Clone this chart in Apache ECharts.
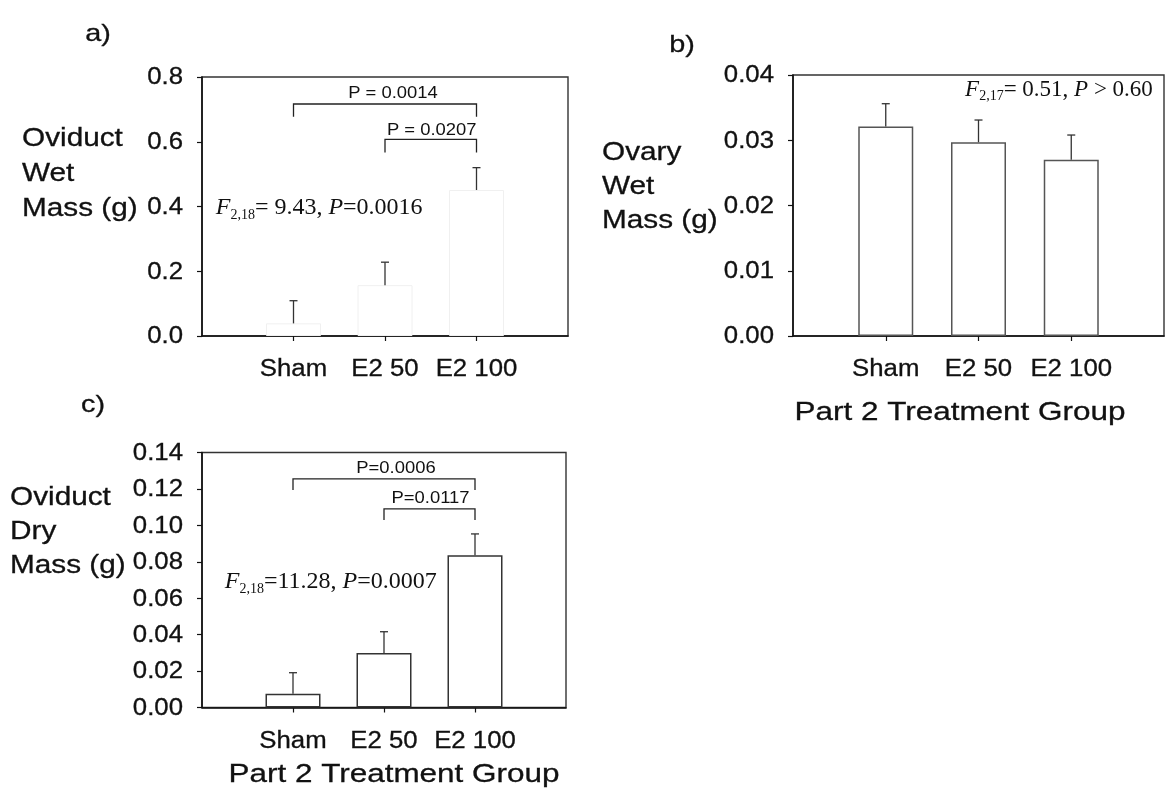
<!DOCTYPE html>
<html>
<head>
<meta charset="utf-8">
<title>Part 2 Treatment Group – reproductive tract masses</title>
<script src="https://cdn.jsdelivr.net/npm/echarts@6/dist/echarts.min.js"></script>
<style>
  html, body { margin: 0; padding: 0; background: #fff; }
  #chart { width: 1167px; height: 808px; }
</style>
</head>
<body>
<div id="chart"></div>
<script>
// ---- data -------------------------------------------------------------
const groups = ['Sham', 'E2 50', 'E2 100'];

// a) oviduct wet mass (g): mean and SE per group
const oviductWetMean = [0.039, 0.157, 0.451];
const oviductWetSE   = [0.070, 0.071, 0.069];

// b) ovary wet mass (g)
const ovaryWetMean = [0.0321, 0.0297, 0.0270];
const ovaryWetSE   = [0.0035, 0.0034, 0.0038];

// c) oviduct dry mass (g)
const oviductDryMean = [0.0076, 0.0299, 0.0836];
const oviductDrySE   = [0.0115, 0.0117, 0.0117];

// y-axis tick labels
const yTicksA = ['0.0', '0.2', '0.4', '0.6', '0.8'];
const yTicksB = ['0.00', '0.01', '0.02', '0.03', '0.04'];
const yTicksC = ['0.00', '0.02', '0.04', '0.06', '0.08', '0.10', '0.12', '0.14'];

// axis titles and panel letters
const yTitleA = ['Oviduct', 'Wet', 'Mass (g)'];
const yTitleB = ['Ovary', 'Wet', 'Mass (g)'];
const yTitleC = ['Oviduct', 'Dry', 'Mass (g)'];
const xTitle = 'Part 2 Treatment Group';
const panelLetters = ['a)', 'b)', 'c)'];

// ANOVA results: [stat, df, value, test stat, value]
const anovaA = ['F', '2,18', '= 9.43, ', 'P', '=0.0016'];
const anovaB = ['F', '2,17', '= 0.51, ', 'P', ' > 0.60'];
const anovaC = ['F', '2,18', '=11.28, ', 'P', '=0.0007'];

// pairwise comparisons: [from group, to group] and their P values
const pairsA = [[0, 2], [1, 2]];
const pairPA = ['P = 0.0014', 'P = 0.0207'];
const pairsC = [[0, 2], [1, 2]];
const pairPC = ['P=0.0006', 'P=0.0117'];

// ---- layout & style ---------------------------------------------------
const SANS = '"Liberation Sans", Arial, Helvetica, sans-serif';
const SERIF = '"Liberation Serif", "Times New Roman", Times, serif';
const INK = '#111';

const panels = [
  {
    grid: { left: 202, top: 77, width: 366, height: 259 },
    max: 0.8, interval: 0.2, ticks: yTicksA,
    mean: oviductWetMean, se: oviductWetSE,
    barEdge: '#f0f0f0', barEdgeWidth: 1, errColor: '#333',
    letter: [98, 34],
    yTitle: yTitleA, yTitleAt: [22, 139], yTitleStep: 35,
    anova: anovaA, anovaAt: [0.15, 0.395], anovaAlign: 'left', anovaSize: 24,
    pairs: pairsA, pairP: pairPA,
    // bracket top / leg ends (data units) and label centre (x offset px, y data)
    bracket: [[0.7166, 0.677], [0.6076, 0.567]],
    pLabel: [[8, 0.7475], [1, 0.636]]
  },
  {
    grid: { left: 793, top: 75, width: 371, height: 261 },
    max: 0.04, interval: 0.01, ticks: yTicksB,
    mean: ovaryWetMean, se: ovaryWetSE,
    barEdge: '#555', barEdgeWidth: 1.5, errColor: '#333',
    letter: [682, 45],
    yTitle: yTitleB, yTitleAt: [602, 153], yTitleStep: 34,
    xTitleAt: [960, 413],
    anova: anovaB, anovaAt: [3.88, 0.0377], anovaAlign: 'right', anovaSize: 23,
    pairs: [], pairP: [], bracket: [], pLabel: []
  },
  {
    grid: { left: 202, top: 452.5, width: 364, height: 255 },
    max: 0.14, interval: 0.02, ticks: yTicksC,
    mean: oviductDryMean, se: oviductDrySE,
    barEdge: '#333', barEdgeWidth: 1.5, errColor: '#333',
    letter: [93, 405],
    yTitle: yTitleC, yTitleAt: [10, 498], yTitleStep: 34,
    xTitleAt: [394, 775],
    anova: anovaC, anovaAt: [0.25, 0.0689], anovaAlign: 'left', anovaSize: 24,
    pairs: pairsC, pairP: pairPC,
    bracket: [[0.1255, 0.1194], [0.109, 0.1030]],
    pLabel: [[12, 0.131], [1, 0.1145]]
  }
];

// category slots: an empty slot at each end keeps the groups off the frame
const slots = [''].concat(groups, ['']);

const chart = echarts.init(document.getElementById('chart'), null, { renderer: 'canvas' });

const grids = [], xAxes = [], yAxes = [], series = [];

panels.forEach((p, gi) => {
  grids.push(Object.assign({ show: true, borderColor: '#333', borderWidth: 1.4, backgroundColor: 'transparent' }, p.grid));

  xAxes.push({
    type: 'category', gridIndex: gi, data: slots, boundaryGap: false,
    axisLine: { lineStyle: { color: INK, width: 1.6 } },
    axisTick: { show: true, length: 5, inside: false, interval: (idx, v) => v !== '',
                lineStyle: { color: INK, width: 1.2 } },
    axisLabel: { show: false },
    splitLine: { show: false }
  });

  yAxes.push({
    type: 'value', gridIndex: gi, min: 0, max: p.max, interval: p.interval,
    axisLine: { show: true, lineStyle: { color: INK, width: 1.6 } },
    axisTick: { show: true, length: 5, inside: false, lineStyle: { color: INK, width: 1.2 } },
    axisLabel: { show: false },
    splitLine: { show: false }
  });

  // bars
  series.push({
    type: 'bar', xAxisIndex: gi, yAxisIndex: gi, barWidth: 55, animation: false,
    data: [null].concat(p.mean, [null]),
    itemStyle: { color: '#fff', borderColor: p.barEdge, borderWidth: p.barEdgeWidth },
    z: 2
  });

  // upper error bars (mean to mean + SE) with a short cap
  series.push({
    type: 'custom', xAxisIndex: gi, yAxisIndex: gi, animation: false, clip: false, z: 3,
    data: p.mean.map((m, i) => [i + 1, m, m + p.se[i]]),
    renderItem: (params, api) => {
      const a = api.coord([api.value(0), api.value(1)]);
      const b = api.coord([api.value(0), api.value(2)]);
      const st = { stroke: p.errColor, lineWidth: 1.3 };
      return {
        type: 'group',
        children: [
          { type: 'line', shape: { x1: a[0], y1: a[1], x2: b[0], y2: b[1] }, style: st },
          { type: 'line', shape: { x1: b[0] - 4, y1: b[1], x2: b[0] + 4, y2: b[1] }, style: st }
        ]
      };
    }
  });

  // significance brackets
  if (p.pairs.length) {
    series.push({
      type: 'custom', xAxisIndex: gi, yAxisIndex: gi, animation: false, clip: false, z: 3,
      data: p.pairs.map((pr, k) => [pr[0] + 1, pr[1] + 1, p.bracket[k][0], p.bracket[k][1]]),
      renderItem: (params, api) => {
        const l0 = api.coord([api.value(0), api.value(3)]);
        const l1 = api.coord([api.value(0), api.value(2)]);
        const r1 = api.coord([api.value(1), api.value(2)]);
        const r0 = api.coord([api.value(1), api.value(3)]);
        return {
          type: 'polyline',
          shape: { points: [l0, l1, r1, r0] },
          style: { stroke: '#222', lineWidth: 1.3, fill: null }
        };
      }
    });
  }
});

chart.setOption({
  animation: false,
  backgroundColor: '#fff',
  grid: grids,
  xAxis: xAxes,
  yAxis: yAxes,
  series: series
});

// ---- text, placed through the axes' own scales --------------------------
// The typeface in this figure is wide, so sans text is drawn stretched horizontally.
function toPx(gi, xv, yv) {
  const x0 = Math.floor(xv), f = xv - x0;
  const a = chart.convertToPixel({ gridIndex: gi }, [x0, yv]);
  if (f === 0) return a;
  const b = chart.convertToPixel({ gridIndex: gi }, [x0 + 1, yv]);
  return [a[0] + (b[0] - a[0]) * f, a[1]];
}

function sansText(x, y, text, size, sx, align) {
  // large labels get a hairline outline for a slightly heavier stroke
  const weight = size >= 20 ? 0.3 : 0;
  return {
    type: 'text', x: x, y: y, scaleX: sx, silent: true, z: 10,
    style: {
      text: text, fill: INK, stroke: weight ? INK : null, lineWidth: weight, font: size + 'px ' + SANS,
      align: align, textAlign: align, verticalAlign: 'middle', textVerticalAlign: 'middle'
    }
  };
}

function anovaText(x, y, parts, size, align) {
  const sub = Math.round(size * 0.6);
  return {
    type: 'text', x: x, y: y, silent: true, z: 10,
    style: {
      text: '{i|' + parts[0] + '}{s|' + parts[1] + '}{n|' + parts[2] + '}{i|' + parts[3] + '}{n|' + parts[4] + '}',
      fill: INK, font: size + 'px ' + SERIF,
      align: align, textAlign: align, verticalAlign: 'middle', textVerticalAlign: 'middle',
      rich: {
        i: { fontFamily: SERIF, fontStyle: 'italic', fontSize: size, lineHeight: size + 4, fill: INK },
        n: { fontFamily: SERIF, fontSize: size, lineHeight: size + 4, fill: INK },
        s: { fontFamily: SERIF, fontSize: sub, lineHeight: sub, verticalAlign: 'bottom', fill: INK }
      }
    }
  };
}

const graphics = [];
panels.forEach((p, gi) => {
  // y tick labels
  p.ticks.forEach(t => {
    const pt = toPx(gi, 0, parseFloat(t));
    graphics.push(sansText(pt[0] - 19, pt[1] + 1, t, 23, 1.12, 'right'));
  });
  // group labels under the x axis
  groups.forEach((g, i) => {
    const pt = toPx(gi, i + 1, 0);
    graphics.push(sansText(pt[0], pt[1] + 34, g, 23, 1.12, 'center'));
  });
  // y title, one line per entry
  p.yTitle.forEach((line, k) => {
    graphics.push(sansText(p.yTitleAt[0], p.yTitleAt[1] + k * p.yTitleStep, line, 25, 1.19, 'left'));
  });
  // x title
  if (p.xTitleAt) {
    graphics.push(sansText(p.xTitleAt[0], p.xTitleAt[1], xTitle, 26, 1.21, 'center'));
  }
  // panel letter
  graphics.push(sansText(p.letter[0], p.letter[1], panelLetters[gi], 24, 1.2, 'center'));
  // ANOVA summary
  const ap = toPx(gi, p.anovaAt[0], p.anovaAt[1]);
  graphics.push(anovaText(ap[0], ap[1], p.anova, p.anovaSize, p.anovaAlign));
  // pairwise P values above their brackets
  p.pairs.forEach((pr, k) => {
    const a = toPx(gi, pr[0] + 1, p.pLabel[k][1]);
    const b = toPx(gi, pr[1] + 1, p.pLabel[k][1]);
    graphics.push(sansText((a[0] + b[0]) / 2 + p.pLabel[k][0], a[1], p.pairP[k], 16, 1.15, 'center'));
  });
});

chart.setOption({ graphic: graphics });
</script>
</body>
</html>
